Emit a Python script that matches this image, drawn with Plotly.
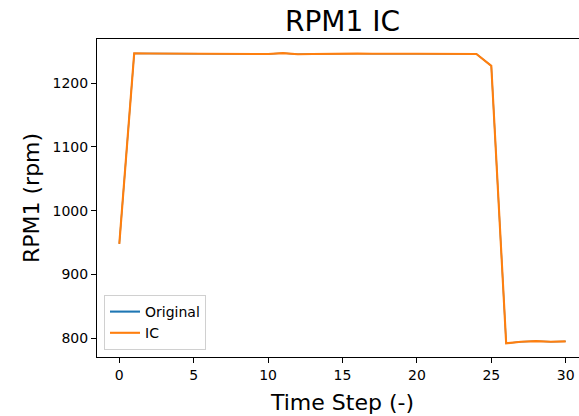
import plotly.graph_objects as go

time_step = list(range(31))
rpm_ic = [948, 1246.5, 1246.3, 1246.2, 1246.0, 1245.9, 1245.6, 1245.4, 1246.4, 1246.0, 1245.5,
          1246.8, 1245.1, 1245.5, 1246.0, 1246.1, 1246.1, 1245.9, 1246.3, 1246.0, 1245.8,
          1246.0, 1246.1, 1246.1, 1245.5, 1227.0, 792.3, 794.8, 795.6, 794.6, 795.3]
rpm_original = list(rpm_ic)

series_names = ["Original", "IC"]
series_colors = ["#1f77b4", "#ff7f0e"]
x_ticks = [0, 5, 10, 15, 20, 25, 30]
y_ticks = [800, 900, 1000, 1100, 1200]

W, H = 579, 416
L, R, T, B = 97, 579, 39, 357
pw, ph = R - L, B - T

def px_x(p):
    return (p - L) / pw

def px_y(p):
    return (B - p) / ph

font = "DejaVu Sans"
fig = go.Figure()
# Original series (drawn underneath; fully covered by IC)
fig.add_trace(go.Scatter(x=time_step, y=rpm_original, mode="lines", name=series_names[0],
                         legendgroup="orig", showlegend=False,
                         line=dict(color=series_colors[0], width=1.4)))
# legend entry for Original at full line width
fig.add_trace(go.Scatter(x=[None], y=[None], mode="lines", name=series_names[0],
                         legendgroup="orig", showlegend=True,
                         line=dict(color=series_colors[0], width=2.1)))
fig.add_trace(go.Scatter(x=time_step, y=rpm_ic, mode="lines", name=series_names[1],
                         line=dict(color=series_colors[1], width=2.1)))

fig.update_layout(
    width=W, height=H,
    margin=dict(l=L, r=W - R, t=T, b=H - B, pad=0),
    paper_bgcolor="white", plot_bgcolor="white",
    font=dict(family=font, color="black", size=14),
    showlegend=True,
    legend=dict(x=px_x(104), y=px_y(350), xanchor="left", yanchor="bottom",
                bgcolor="rgba(255,255,255,0.8)", bordercolor="#d0d0d0", borderwidth=1,
                tracegroupgap=0,
                font=dict(family=font, size=14, color="black")),
    xaxis=dict(range=[-1.5, -1.5 + 33 * pw / (588 - L)], tickvals=x_ticks,
               ticks="outside", ticklen=5, tickwidth=1, tickcolor="black",
               showline=True, linecolor="black", linewidth=1, mirror=True,
               showgrid=False, zeroline=False,
               tickfont=dict(family=font, size=14, color="black")),
    yaxis=dict(range=[770.8, 1269], tickvals=y_ticks,
               ticks="outside", ticklen=5, tickwidth=1, tickcolor="black",
               showline=True, linecolor="black", linewidth=1,
               showgrid=False, zeroline=False,
               tickfont=dict(family=font, size=14, color="black")),
    annotations=[
        dict(text="RPM1 IC", xref="paper", yref="paper", x=px_x(342), y=px_y(21),
             xanchor="center", yanchor="middle", showarrow=False,
             font=dict(family=font, size=28, color="black")),
        dict(text="Time Step (-)", xref="paper", yref="paper", x=px_x(342), y=px_y(402),
             xanchor="center", yanchor="middle", showarrow=False,
             font=dict(family=font, size=22, color="black")),
        dict(text="RPM1 (rpm)", xref="paper", yref="paper", x=px_x(31), y=px_y(198),
             xanchor="center", yanchor="middle", showarrow=False, textangle=-90,
             font=dict(family=font, size=22, color="black")),
    ],
)

fig.write_html("out.html")
